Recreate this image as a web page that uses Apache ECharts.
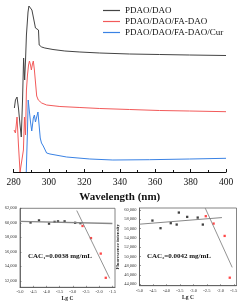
<!DOCTYPE html>
<html><head><meta charset="utf-8">
<script src="https://cdn.jsdelivr.net/npm/echarts@6/dist/echarts.min.js"></script>
<style>html,body{margin:0;padding:0;background:#fff}#c{width:241px;height:304px}</style>
</head><body><div id="c"></div>
<script>
// ---- Top panel: fluorescence spectra (arbitrary units) ----
const seriesNames = ['PDAO/DAO', 'PDAO/DAO/FA-DAO', 'PDAO/DAO/FA-DAO/Cur'];
const wlBlack = [280.5,281.1,282.0,282.8,283.7,284.4,285.1,285.7,286.3,286.8,287.3,288.2,288.7,289.6,290.4,291.3,292.4,293.2,294.1,294.5,295.9,297.7,302.3,309.0,317.5,328.7,345.6,362.5,379.4,400];
const intBlack = [64,72,75,64,47,35,72,114,92,112,137,160,166,166,162,154,144,142,142,127,125,124,122.5,121,120,119,118,117.5,117,116.5];
const wlRed = [280.3,281.1,282.0,282.8,283.7,284.8,285.6,286.2,286.8,287.3,287.9,288.5,289.0,289.6,290.1,290.7,291.2,291.8,292.4,293.1,294.0,295.9,298.7,306.2,317.5,328.7,345.6,362.5,379.4,400];
const intRed = [42,39,55,27,0,0,22,55,37,82,97,107,111,107,102,108,111,102,90,76,72,69,67,65.5,64.5,63.5,62.5,61.5,61,60.3];
const wlBlue = [287.2,287.9,288.3,288.9,289.6,290.3,291.2,291.8,292.4,293.1,293.8,294.4,295.1,295.8,296.8,298.7,300.6,310.0,323.1,336.1,356.9,379.4,400];
const intBlue = [0,42,72,62,50,41,54,57,50,48,60,62,34,29,26,19,18,15,13,12,12.3,13,13.7];
const wlTicks = [280,300,320,340,360,380,400];

// ---- Bottom-left panel: CAC1 ----
const lgC1Black = [-4.60,-4.28,-3.90,-3.69,-3.56,-3.31,-2.91,-2.71];
const fl1Black = [60040,60330,59880,60130,60200,60200,60000,59950];
const lgC1Red = [-2.63,-2.31,-1.94,-1.75];
const fl1Red = [59560,57890,55750,52410];
const fit1FlatX = [-5.0,-1.5], fit1FlatY = [60200,59900];
const fit1SteepX = [-2.85,-1.6], fit1SteepY = [61690,52330];
const yTicks1 = [52000,54000,56000,58000,60000,62000];

// ---- Bottom-right panel: CAC2 ----
const lgC2Black = [-4.52,-4.22,-3.84,-3.62,-3.54,-3.23,-2.84,-2.65];
const fl2Black = [57700,56060,57140,56840,59420,58490,58340,56840];
const lgC2Red = [-2.54,-2.25,-1.84,-1.65];
const fl2Red = [58640,57050,54400,45420];
const fit2FlatX = [-5.0,-1.94], fit2FlatY = [56920,58340];
const fit2SteepX = [-2.56,-1.56], fit2SteepY = [60370,47640];
const yTicks2 = [44000,46000,48000,50000,52000,54000,56000,58000,60000];

const cacTexts = ['CAC\u2081=0.0038 mg/mL', 'CAC\u2082=0.0042 mg/mL'];

const zip = (a, b) => a.map((v, i) => [v, b[i]]);
const SERIF = "'Liberation Serif','Times New Roman',serif";
const colors = ['#444444', '#f25a5a', '#3a82e4'];
const LEG_ICON = 'path://M0,0L17,0L17,1.2L0,1.2Z';

function smallX(gi) {
  return {
    type: 'value', gridIndex: gi, min: -5, max: -1.4, interval: 0.5,
    axisLine: {show: true, lineStyle: {color: '#555', width: 0.8}},
    axisTick: {show: true, inside: true, length: 1.5, lineStyle: {color: '#555', width: 0.6}},
    axisLabel: {fontSize: 4.5, fontFamily: SERIF, color: '#333', margin: 2.5, formatter: v => v.toFixed(1)},
    splitLine: {show: false},
    name: 'Lg C', nameLocation: 'middle', nameGap: 8,
    nameTextStyle: {fontSize: 5.5, fontWeight: 'bold', fontFamily: SERIF, color: '#222'}
  };
}
function smallY(gi, min, max, ticks) {
  return {
    type: 'value', gridIndex: gi, min: min, max: max,
    axisLine: {show: true, lineStyle: {color: '#555', width: 0.8}},
    axisTick: {show: true, inside: true, length: 1.5, customValues: ticks, lineStyle: {color: '#555', width: 0.6}},
    axisLabel: {fontSize: 4.5, fontFamily: SERIF, color: '#333', margin: 3, customValues: ticks},
    splitLine: {show: false},
    name: 'Fluorescence intensity', nameLocation: 'middle', nameGap: 13,
    nameTextStyle: {fontSize: 4.8, fontWeight: 'bold', fontFamily: SERIF, color: '#222'}
  };
}

const chart = echarts.init(document.getElementById('c'), null, {renderer: 'canvas'});
chart.setOption({
  animation: false,
  backgroundColor: '#fff',
  legend: {
    orient: 'vertical', left: 98, top: 1, itemWidth: 17, itemHeight: 8, itemGap: 2,
    data: seriesNames.map(n => ({name: n, icon: LEG_ICON})),
    textStyle: {fontSize: 9, fontFamily: SERIF, color: '#111'}
  },
  grid: [
    {left: 13.5, right: 15, top: 2, bottom: 132, containLabel: false, outerBoundsMode: 'none'},
    {left: 20, right: 126, top: 208.3, bottom: 16.7, show: true, borderColor: '#666', borderWidth: 0.8, containLabel: false, outerBoundsMode: 'none'},
    {left: 139.5, right: 4.5, top: 208, bottom: 18.3, show: true, borderColor: '#666', borderWidth: 0.8, containLabel: false, outerBoundsMode: 'none'}
  ],
  xAxis: [
    {
      type: 'value', gridIndex: 0, min: wlTicks[0], max: wlTicks[wlTicks.length - 1], interval: 20,
      axisLine: {show: true, lineStyle: {color: '#111', width: 1.2}},
      axisTick: {show: true, inside: true, length: 3, lineStyle: {color: '#111', width: 1}},
      minorTick: {show: true, splitNumber: 2, length: 2, lineStyle: {color: '#111', width: 1}},
      axisLabel: {fontSize: 9.5, fontFamily: SERIF, color: '#111', margin: 5},
      splitLine: {show: false},
      name: 'Wavelength (nm)', nameLocation: 'middle', nameGap: 15,
      nameTextStyle: {fontSize: 11, fontWeight: 'bold', fontFamily: SERIF, color: '#111'}
    },
    smallX(1), smallX(2)
  ],
  yAxis: [
    {type: 'value', gridIndex: 0, min: 0, max: 170, show: false},
    smallY(1, 51100, 62000, yTicks1),
    smallY(2, 43700, 60400, yTicks2)
  ],
  series: [
    {name: seriesNames[0], type: 'line', xAxisIndex: 0, yAxisIndex: 0, symbol: 'none', data: zip(wlBlack, intBlack), lineStyle: {color: colors[0], width: 1}, itemStyle: {color: colors[0]}},
    {name: seriesNames[1], type: 'line', xAxisIndex: 0, yAxisIndex: 0, symbol: 'none', data: zip(wlRed, intRed), lineStyle: {color: colors[1], width: 1}, itemStyle: {color: colors[1]}},
    {name: seriesNames[2], type: 'line', xAxisIndex: 0, yAxisIndex: 0, symbol: 'none', data: zip(wlBlue, intBlue), lineStyle: {color: colors[2], width: 1}, itemStyle: {color: colors[2]}},

    {type: 'line', xAxisIndex: 1, yAxisIndex: 1, symbol: 'none', data: zip(fit1FlatX, fit1FlatY), lineStyle: {color: '#888', width: 1.3}},
    {type: 'line', xAxisIndex: 1, yAxisIndex: 1, symbol: 'none', data: zip(fit1SteepX, fit1SteepY), lineStyle: {color: '#777', width: 0.8}},
    {type: 'scatter', xAxisIndex: 1, yAxisIndex: 1, symbol: 'rect', symbolSize: 2.3, data: zip(lgC1Black, fl1Black), itemStyle: {color: '#111'}},
    {type: 'scatter', xAxisIndex: 1, yAxisIndex: 1, symbol: 'rect', symbolSize: 2.3, data: zip(lgC1Red, fl1Red), itemStyle: {color: '#ff1a1a'}},

    {type: 'line', xAxisIndex: 2, yAxisIndex: 2, symbol: 'none', data: zip(fit2FlatX, fit2FlatY), lineStyle: {color: '#888', width: 1}},
    {type: 'line', xAxisIndex: 2, yAxisIndex: 2, symbol: 'none', data: zip(fit2SteepX, fit2SteepY), lineStyle: {color: '#777', width: 0.8}},
    {type: 'scatter', xAxisIndex: 2, yAxisIndex: 2, symbol: 'rect', symbolSize: 2.3, data: zip(lgC2Black, fl2Black), itemStyle: {color: '#111'}},
    {type: 'scatter', xAxisIndex: 2, yAxisIndex: 2, symbol: 'rect', symbolSize: 2.3, data: zip(lgC2Red, fl2Red), itemStyle: {color: '#ff1a1a'}}
  ],
  graphic: [
    {type: 'text', left: 28, top: 253, style: {text: cacTexts[0], fontSize: 7, fontWeight: 'bold', fontFamily: SERIF, fill: '#111'}},
    {type: 'text', left: 147, top: 253, style: {text: cacTexts[1], fontSize: 7, fontWeight: 'bold', fontFamily: SERIF, fill: '#111'}}
  ]
});
</script></body></html>
